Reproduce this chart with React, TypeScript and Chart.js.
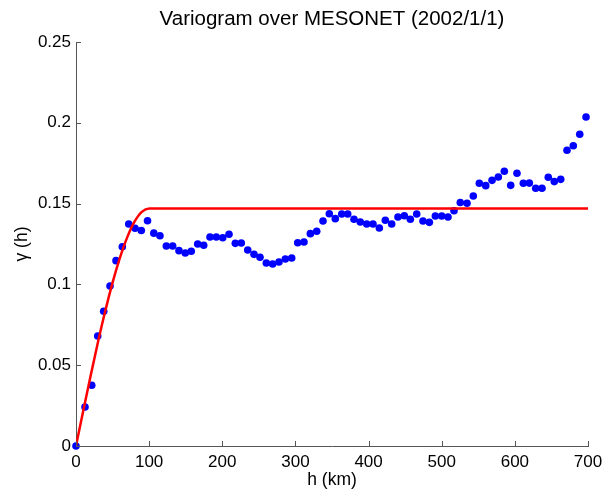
import React, { useEffect, useRef } from "react";
import { Chart, registerables } from "chart.js";

Chart.register(...registerables);

const titleText = "Variogram over MESONET (2002/1/1)";
const xTitle = "h (km)";
const yTitle = "γ (h)";

// empirical variogram: lag distance (km) and semivariance
const lagKm = [
  0, 12.3, 21.5, 29.7, 37.9, 46.5, 54.7, 63.3, 72.1, 80.7, 89.3, 97.8, 106.4, 114.8,
  123.5, 132.2, 140.8, 149.4, 157.6, 166.4, 174.6, 183.2, 191.8, 200.6, 209.2, 217.8,
  226.0, 234.8, 243.4, 251.6, 260.2, 268.9, 277.5, 286.2, 294.9, 303.1, 311.7, 320.4,
  329.1, 337.7, 346.3, 354.5, 363.3, 371.5, 380.1, 388.7, 397.5, 406.1, 414.7, 422.9,
  431.6, 440.2, 448.9, 457.1, 465.8, 474.4, 483.1, 491.3, 500.0, 508.6, 516.8, 525.4,
  534.6, 543.2, 551.4, 560.2, 568.8, 577.4, 585.6, 594.3, 602.9, 611.6, 619.8, 628.5,
  637.1, 645.7, 653.9, 662.7, 671.3, 679.9, 688.7, 697.3,
];
const semivariance = [
  0, 0.0241, 0.0376, 0.0681, 0.0834, 0.099, 0.1147, 0.1233, 0.1374, 0.1347, 0.1334,
  0.1394, 0.1317, 0.1301, 0.1238, 0.1238, 0.1209, 0.1194, 0.1205, 0.125, 0.1242,
  0.1293, 0.1293, 0.1289, 0.131, 0.1254, 0.1256, 0.1213, 0.1186, 0.1168, 0.1132,
  0.1126, 0.1139, 0.1157, 0.1163, 0.1258, 0.1262, 0.1314, 0.1329, 0.1392, 0.1437,
  0.1407, 0.1436, 0.1436, 0.1403, 0.1386, 0.1374, 0.1374, 0.1349, 0.1397, 0.1374,
  0.1417, 0.1425, 0.1403, 0.1436, 0.1392, 0.1384, 0.1423, 0.1423, 0.1417, 0.1456,
  0.1507, 0.1502, 0.1547, 0.1626, 0.1611, 0.1644, 0.1665, 0.17, 0.1613, 0.1688,
  0.1626, 0.1627, 0.1595, 0.1595, 0.1663, 0.1636, 0.165, 0.183, 0.1858, 0.1929, 0.2036,
];

// fitted model curve
const modelKm = [0, 10, 20, 30, 40, 50, 60, 70, 80, 90, 100, 700];
const modelGamma = [0, 0.022, 0.0435, 0.0642, 0.0835, 0.1011, 0.1164, 0.1291, 0.1388, 0.1449, 0.147, 0.147];

const xTicks = [0, 100, 200, 300, 400, 500, 600, 700];
const xTickLabels = ["0", "100", "200", "300", "400", "500", "600", "700"];
const yTicks = [0, 0.05, 0.1, 0.15, 0.2, 0.25];
const yTickLabels = ["0", "0.05", "0.1", "0.15", "0.2", "0.25"];

const FONT = "'Liberation Sans', Arial, Helvetica, sans-serif";
const AXIS_COLOR = "#555555";

const inwardTicks = {
  id: "inwardTicks",
  afterDraw(chart: any) {
    const { ctx, chartArea, scales } = chart;
    const len = 5;
    ctx.save();
    ctx.strokeStyle = AXIS_COLOR;
    ctx.lineWidth = 1;
    ctx.beginPath();
    xTicks.forEach((v) => {
      const x = Math.round(scales.x.getPixelForValue(v)) + 0.5;
      ctx.moveTo(x, chartArea.bottom);
      ctx.lineTo(x, chartArea.bottom - len);
    });
    yTicks.forEach((v) => {
      const y = Math.round(scales.y.getPixelForValue(v)) + 0.5;
      ctx.moveTo(chartArea.left, y);
      ctx.lineTo(chartArea.left + len, y);
    });
    ctx.stroke();
    ctx.restore();
  },
};

export default function App() {
  const ref = useRef<HTMLCanvasElement | null>(null);
  useEffect(() => {
    if (!ref.current) return;
    const chart = new Chart(ref.current, {
      type: "scatter",
      data: {
        datasets: [
          {
            type: "line",
            label: "model",
            data: modelKm.map((h, i) => ({ x: h, y: modelGamma[i] })),
            borderColor: "#ff0000",
            borderWidth: 2.5,
            pointRadius: 0,
            showLine: true,
            fill: false,
            cubicInterpolationMode: "monotone",
            order: 0,
          } as any,
          {
            type: "scatter",
            label: "empirical",
            data: lagKm.map((h, i) => ({ x: h, y: semivariance[i] })),
            backgroundColor: "#0000ff",
            borderWidth: 0,
            pointRadius: 3.8,
            clip: false,
            order: 1,
          } as any,
        ],
      },
      options: {
        responsive: false,
        animation: false,
        layout: { padding: { left: 0, right: 15, top: 0, bottom: 0 } },
        plugins: {
          legend: { display: false },
          tooltip: { enabled: false },
          title: {
            display: true,
            text: titleText,
            fullSize: false,
            color: "#000",
            font: { family: FONT, size: 20.5, weight: "normal" },
            padding: { top: 7, bottom: 10.4 },
          },
        },
        scales: {
          x: {
            type: "linear",
            min: 0,
            max: 700,
            afterFit: (s: any) => {
              s.height = 45;
              s.paddingLeft = 0;
              s.paddingRight = 0;
            },
            afterBuildTicks: (s: any) => {
              s.ticks = xTicks.map((v) => ({ value: v }));
            },
            ticks: {
              color: "#000",
              font: { family: FONT, size: 17 },
              padding: 6,
              maxRotation: 0,
              autoSkip: false,
              callback: (_v: any, i: number) => xTickLabels[i],
            },
            grid: { display: false, drawTicks: false },
            border: { display: true, color: AXIS_COLOR, width: 1 },
            title: {
              display: true,
              text: xTitle,
              color: "#000",
              font: { family: FONT, size: 17.5 },
              padding: { top: 0, bottom: 0 },
            },
          },
          y: {
            type: "linear",
            min: 0,
            max: 0.25,
            afterFit: (s: any) => {
              s.width = 76;
              s.paddingTop = 0;
              s.paddingBottom = 0;
            },
            afterBuildTicks: (s: any) => {
              s.ticks = yTicks.map((v) => ({ value: v }));
            },
            ticks: {
              color: "#000",
              font: { family: FONT, size: 17 },
              padding: 5,
              autoSkip: false,
              callback: (_v: any, i: number) => yTickLabels[i],
            },
            grid: { display: false, drawTicks: false },
            border: { display: true, color: AXIS_COLOR, width: 1 },
            title: {
              display: true,
              text: yTitle,
              color: "#000",
              font: { family: FONT, size: 17.5 },
              padding: { top: 12, bottom: 0 },
            },
          },
        },
      },
      plugins: [inwardTicks],
    });
    return () => chart.destroy();
  }, []);
  return (
    <div style={{ position: "absolute", left: 0, top: 0, width: 603, height: 491, background: "#fff" }}>
      <canvas ref={ref} width={603} height={491} style={{ display: "block" }} />
    </div>
  );
}
